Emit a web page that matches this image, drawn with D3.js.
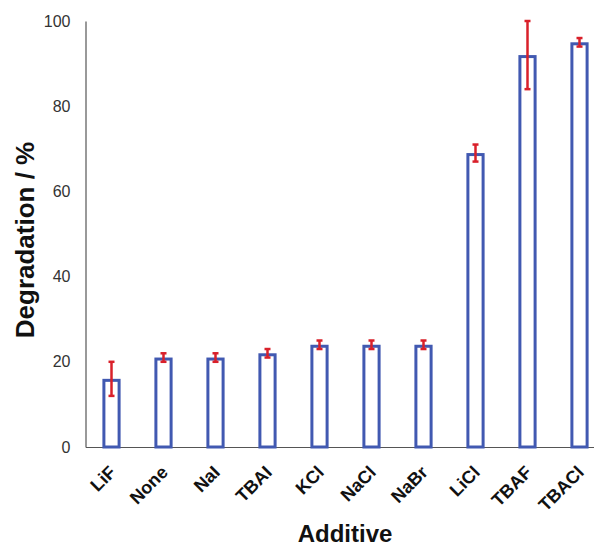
<!DOCTYPE html>
<html><head><meta charset="utf-8">
<script src="https://cdn.jsdelivr.net/npm/d3@7"></script>
<style>body{margin:0;background:#fff}svg{display:block}</style>
</head><body>
<svg id="c" width="594" height="546"></svg>
<script>
const categories = ["LiF","None","NaI","TBAI","KCl","NaCl","NaBr","LiCl","TBAF","TBACl"];
const values = [16,21,21,22,24,24,24,69,92,95];
const errors = [4,1,1,1,1,1,1,2,8,1];
const yTicks = [0,20,40,60,80,100];

const svg = d3.select("#c");
const x = d3.scaleBand().domain(categories).range([85.5,605.5]).paddingInner(0.65).paddingOuter(0.325);
const y = d3.scaleLinear().domain([0,100]).range([447,21]);

// axes
const yAxis = svg.append("g").attr("transform","translate(85.5,0)")
  .call(d3.axisLeft(y).tickValues(yTicks).tickSize(0).tickPadding(15));
yAxis.select(".domain").attr("stroke","#555").attr("stroke-width",1.2);
yAxis.selectAll("text").attr("font-family","Liberation Sans, Arial, sans-serif").attr("font-size",16).attr("fill","#333");

const xAxis = svg.append("g").attr("transform","translate(0,447)")
  .call(d3.axisBottom(x).tickSize(0).tickPadding(0));
xAxis.select(".domain").attr("stroke","#555").attr("stroke-width",1.2);
xAxis.selectAll("text")
  .attr("font-family","Liberation Sans, Arial, sans-serif").attr("font-size",18).attr("font-weight","bold").attr("fill","#111")
  .attr("text-anchor","end").attr("dy","0.35em")
  .attr("transform","translate(1,22) rotate(-45)");

// bars
svg.append("g").selectAll("rect").data(categories).join("rect")
  .attr("x",d=>x(d)+1.5).attr("width",x.bandwidth()-3)
  .attr("y",(d,i)=>y(values[i])+1.5).attr("height",(d,i)=>y(0)-y(values[i])-1.5)
  .attr("fill","#fff").attr("stroke","#4159b1").attr("stroke-width",3);

// error bars
const eg = svg.append("g").attr("stroke","#d9202a").attr("stroke-width",2.5);
categories.forEach((c,i)=>{
  const cx = x(c)+x.bandwidth()/2;
  eg.append("line").attr("x1",cx).attr("x2",cx).attr("y1",y(values[i]-errors[i])).attr("y2",y(values[i]+errors[i]));
  [values[i]-errors[i],values[i]+errors[i]].forEach(v=>{
    eg.append("line").attr("x1",cx-3).attr("x2",cx+3).attr("y1",y(v)).attr("y2",y(v));
  });
});

// axis titles
svg.append("text").attr("transform","translate(34,240) rotate(-90)").attr("text-anchor","middle")
  .attr("font-family","Liberation Sans, Arial, sans-serif").attr("font-weight","bold").attr("font-size",26).attr("fill","#111")
  .text("Degradation / %");
svg.append("text").attr("x",345).attr("y",542).attr("text-anchor","middle")
  .attr("font-family","Liberation Sans, Arial, sans-serif").attr("font-weight","bold").attr("font-size",24).attr("fill","#111")
  .text("Additive");
</script>
</body></html>
